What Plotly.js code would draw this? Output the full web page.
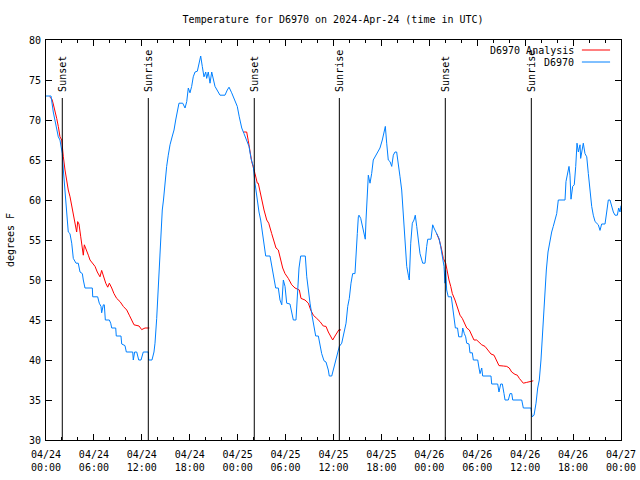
<!DOCTYPE html>
<html>
<head>
<meta charset="utf-8">
<script src="https://cdn.plot.ly/plotly-3.0.1.min.js"></script>
<style>html,body{margin:0;padding:0;background:#fff;}#chart{width:640px;height:480px;}</style>
</head>
<body>
<div id="chart"></div>
<script>
// Hours since 2024-04-24 00:00 UTC
const obsHours = [0,0.63,0.91,1.13,1.34,1.54,1.75,1.88,2.04,2.17,2.38,2.59,2.79,3.0,3.22,3.42,3.76,4.04,4.26,4.55,4.67,4.88,5.8,5.85,6.47,6.67,6.89,6.97,7.18,7.3,7.43,7.93,8.1,8.23,8.73,8.8,9.39,9.48,9.89,10.06,10.86,10.93,11.1,11.36,11.61,11.9,12.18,12.81,12.86,13.27,13.52,13.65,13.86,13.99,14.15,14.27,14.4,14.56,14.71,14.9,15.11,15.31,15.53,15.82,16.03,16.24,16.44,16.65,17.12,17.41,17.62,17.82,18.03,18.24,18.44,18.66,18.95,19.16,19.37,19.57,19.78,20.0,20.12,20.32,20.54,20.75,20.95,21.16,21.79,22.41,22.7,22.92,23.25,23.67,23.95,24.2,24.51,24.79,25.13,25.42,25.67,25.96,26.17,26.46,26.67,26.88,27.09,27.3,27.51,28.05,28.26,28.46,28.76,29.09,29.3,29.52,29.72,29.93,30.14,30.55,30.76,30.97,31.3,31.47,31.68,31.89,32.47,32.65,32.85,33.06,33.27,33.56,33.77,34.1,34.31,34.52,34.81,35.06,35.35,35.47,35.78,36.06,36.4,36.73,37.03,37.32,37.57,37.78,37.98,38.19,38.4,38.69,38.82,38.98,39.11,39.19,39.41,39.66,39.86,39.98,40.07,40.23,40.36,40.57,40.78,40.98,41.2,41.48,41.82,42.11,42.32,42.49,42.66,42.86,43.08,43.29,43.49,43.7,43.91,44.11,44.33,44.54,44.74,44.83,44.95,45.17,45.37,45.49,45.67,45.87,46.08,46.24,46.42,46.62,46.83,47.17,47.46,47.67,47.8,48.21,48.42,48.58,48.92,49.21,49.42,49.62,49.84,49.96,50.05,50.17,50.37,50.75,50.9,51.09,51.26,51.53,51.68,52.06,52.18,52.38,52.55,52.68,52.97,53.09,53.38,53.51,54.06,54.22,54.35,54.56,54.68,55.72,55.81,56.56,56.72,56.94,57.14,57.35,57.48,57.89,58.1,58.32,58.44,59.57,59.77,60.73,60.86,61.11,61.36,61.57,61.77,61.98,62.15,62.32,62.48,62.65,62.86,63.11,63.32,63.52,63.74,63.95,64.15,64.99,65.11,65.33,65.49,65.61,65.74,65.95,66.15,66.33,66.49,66.66,66.87,66.95,67.12,67.28,67.49,67.71,67.91,68.12,68.33,68.53,68.75,69.16,69.37,69.58,70.0,70.21,70.41,70.62,70.84,71.04,71.25,71.54,71.71,71.88,72.0];
const obsTemp = [73,73,71,70,69.2,67.9,67.5,66.7,65.8,63.75,60.4,58.5,56,55.8,54.6,52.7,52.1,52.1,51,50.8,50,49,49,47.9,47.9,47.1,46.7,45.9,46.9,46.9,45,45,44.6,44,44,43,43,42,41.8,41,41,40,41,41,40,40,41,41,40,40,41,42.1,45.2,47.7,50.8,54.2,56.7,58.75,60,62.1,64.2,65.6,66.9,68,68.75,70,71.25,72.1,72.1,71.5,72.3,74,73.4,74.2,75.4,76,76.1,77.1,78,76.7,75.4,76,75.2,76,74.6,76,75.2,74.2,73.1,73.1,73.75,74.1,73.4,72.5,71.7,70.4,69,68.3,67.5,66.7,65.2,64.2,62.1,59.6,58.5,57.5,55.8,54.6,53,53,51.9,50.6,49,49,47.5,46.9,50,49.2,47.1,47,46,45,45,47.5,51.5,53,53,50.4,48.5,47.1,45.8,44.4,43,43,41.7,40.8,39.9,39.75,38.75,38,38,39.2,40.6,41.7,42.1,43.3,44.6,46.7,47.7,49.6,50.8,50.8,52.5,55.8,57.9,58.1,57.7,56.7,55.8,55.1,57.5,60,63.1,62.1,63.3,65,65.4,65.8,66.5,67.5,68.5,69.2,67.1,65,64.8,64.2,65.6,66,66,64.2,62.9,61.25,58.3,56.25,55.8,51.7,50.6,50,54.6,57.1,57.5,58.1,56.7,54.6,53.3,52.1,52.1,54.2,55.1,55.1,56.9,56.5,55.8,55.2,54.2,52.7,51.7,49.6,51.2,48.75,47.9,47.9,46.7,45.4,44,44,42.9,42.9,44,43.3,42.9,42.1,42,40.9,40.9,40,40,39,38.3,39,38,38,37,37,36,37,37,35.8,35,35,35.8,35.8,35,35,34,34,32.9,33.1,34.6,36.5,37.5,40,42.9,46.7,48.1,51.25,53.5,55,56,56.7,57.5,58.3,60,60,62.3,63.5,64.2,63.1,60.1,61.7,61.9,64.2,67.1,66,66.9,65.2,66.2,67.1,65.8,65.4,63.3,60.8,59.2,58.1,57.3,56.9,56.2,57,57,58.5,60,60,59.2,58.5,58.1,58.1,59,58.5,59.3];

const anaHours = [0.44,0.75,0.91,1.13,1.34,1.54,1.75,1.97,2.04,2.17,2.38,2.59,2.79,3.01,3.22,3.42,3.63,3.84,3.97,4.13,4.35,4.6,4.67,4.8,5.1,5.3,5.51,5.8,6.14,6.42,6.76,6.97,7.18,7.48,7.73,7.93,8.23,8.51,8.85,9.27,9.68,10.11,10.43,10.73,11.02,11.65,11.98,12.4,12.94,null,
 24.71,25.13,25.33,25.55,25.76,26.17,26.46,26.58,26.88,27.05,27.3,27.64,27.89,28.26,28.46,28.8,29.09,29.39,29.64,29.93,30.34,30.77,31.18,31.72,31.93,32.43,32.85,33.15,33.47,33.9,34.31,34.72,35.06,35.35,35.65,35.9,36.19,36.48,36.69,36.94,null,
 48.92,49.25,49.55,49.75,50.05,50.25,50.46,50.68,50.88,51.21,51.5,51.84,52.13,52.38,52.68,53.01,53.31,53.59,53.93,54.26,54.56,54.97,55.38,55.72,56.1,56.44,56.72,57.26,57.69,58.01,58.31,58.73,59.02,59.27,59.48,59.77,60.19,60.61,61.02];
const anaTemp = [72.9,72.6,72,71.25,70.2,69.2,67.9,67.5,66.25,65.4,63.75,62.1,61.25,60.4,59.3,57.9,56.7,56,57.3,57,55.4,53.5,53.1,54.4,53.75,53.1,52.5,52.1,51.7,51,50.4,51.2,50.4,49.6,49.1,49.6,49,48.3,47.7,47.3,46.7,46.25,45.6,45,44.4,44.25,43.8,44,44,null,
 68.5,68.5,67.4,65.8,64.8,63.3,62.1,62.1,60.6,60,58.75,57.5,57.1,55.8,55,54,53.75,52.5,51.5,50.8,50.2,49.4,49,48.75,47.7,47.5,47.1,46.25,45.6,45.2,44.8,44.25,44.2,43.5,43,42.5,43,43.5,43.8,43.75,null,
 55.8,55,53.75,52.7,52.1,51,50,49.2,48.3,47.5,46.7,45.6,45.2,44.6,44,43.75,43.1,42.5,42.5,42.2,41.9,41.7,41.25,40.75,40.6,39.9,39.3,39.25,39.2,39,38.5,38.2,38.1,37.7,37.5,37.1,37.2,37.3,37.4];

const eventHours = [2.04, 12.81, 26.08, 36.73, 50.0, 60.77];
const eventLabels = ["Sunset","Sunrise","Sunset","Sunrise","Sunset","Sunrise"];

const xTickVals = [0,6,12,18,24,30,36,42,48,54,60,66,72];
const xTickText = ["04/24<br>00:00","04/24<br>06:00","04/24<br>12:00","04/24<br>18:00","04/25<br>00:00","04/25<br>06:00","04/25<br>12:00","04/25<br>18:00","04/26<br>00:00","04/26<br>06:00","04/26<br>12:00","04/26<br>18:00","04/27<br>00:00"];

const seriesNames = ["D6970 Analysis","D6970"];
const seriesColors = ["#ff0000","#0080ff"];

const FONT = "DejaVu Sans Mono, monospace";
const minorVals = [];
for (let h = 0; h <= 72; h += 2) if (h % 6 !== 0) minorVals.push(h);

const traces = [
  {x: anaHours, y: anaTemp, type: 'scatter', mode: 'lines', name: seriesNames[0],
   line: {color: seriesColors[0], width: 1}, connectgaps: false, hoverinfo: 'skip'},
  {x: obsHours, y: obsTemp, type: 'scatter', mode: 'lines', name: seriesNames[1],
   line: {color: seriesColors[1], width: 1}, hoverinfo: 'skip'}
];

const shapes = eventHours.map(h => ({type: 'line', xref: 'x', yref: 'y', x0: h, x1: h, y0: 30, y1: 72.75,
  line: {color: '#000', width: 1}}));
const annotations = eventHours.map((h, i) => ({xref: 'x', yref: 'y', x: h, y: 73.3, text: eventLabels[i],
  textangle: -90, showarrow: false, xanchor: 'center', yanchor: 'bottom', font: {family: FONT, size: 10, color: '#000'}}));

// legend (gnuplot style: text then sample)
const legY = [0.975, 0.945];
seriesNames.forEach((n, i) => {
  annotations.push({xref: 'paper', yref: 'paper', x: 0.9215, y: legY[i], text: n, showarrow: false,
    xanchor: 'right', yanchor: 'middle', font: {family: FONT, size: 10, color: '#000'}});
  shapes.push({type: 'line', xref: 'paper', yref: 'paper', x0: 0.932, x1: 0.981, y0: legY[i], y1: legY[i],
    line: {color: seriesColors[i], width: 1}});
});

const layout = {
  width: 640, height: 480,
  margin: {l: 46, r: 19, t: 40, b: 40, pad: 0},
  paper_bgcolor: '#fff', plot_bgcolor: '#fff',
  showlegend: false,
  font: {family: FONT, size: 10, color: '#000'},
  title: {text: 'Temperature for D6970 on 2024-Apr-24 (time in UTC)', x: 0.5205, xanchor: 'center',
    y: 1 - 19/480, yanchor: 'middle', font: {family: FONT, size: 10, color: '#000'}},
  xaxis: {range: [0, 72], tickmode: 'array', tickvals: xTickVals, ticktext: xTickText,
    ticks: 'inside', ticklen: 6, tickcolor: '#000', mirror: 'ticks', showline: true, linecolor: '#000', linewidth: 1,
    showgrid: false, zeroline: false, ticklabelstandoff: 5, tickfont: {family: FONT, size: 10, color: '#000'},
    minor: {tickmode: 'array', tickvals: minorVals, ticks: 'inside', ticklen: 3, tickcolor: '#000', showgrid: false}},
  yaxis: {range: [30, 80], tickmode: 'linear', tick0: 30, dtick: 5,
    ticks: 'inside', ticklen: 6, tickcolor: '#000', mirror: 'ticks', showline: true, linecolor: '#000', linewidth: 1,
    showgrid: false, zeroline: false, ticklabelstandoff: 2, tickfont: {family: FONT, size: 10, color: '#000'},
    title: {text: 'degrees F', font: {family: FONT, size: 10, color: '#000'}, standoff: 12}},
  shapes: shapes,
  annotations: annotations
};

Plotly.newPlot('chart', traces, layout, {staticPlot: true, displayModeBar: false});
</script>
</body>
</html>
